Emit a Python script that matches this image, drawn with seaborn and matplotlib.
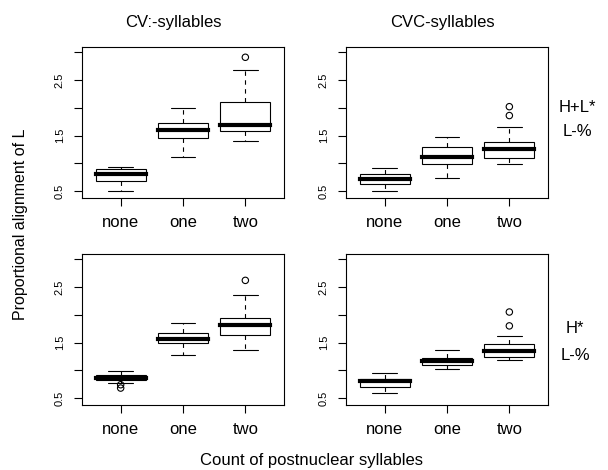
import numpy as np
import pandas as pd
import matplotlib
matplotlib.use("Agg")
import matplotlib.pyplot as plt
import seaborn as sns

# ---------------- data ----------------
groups = ["none", "one", "two"]
syllable_types = ["CV:-syllables", "CVC-syllables"]
accent_line1 = ["H+L*", "H*"]
accent_line2 = ["L-%", "L-%"]
xlabel = "Count of postnuclear syllables"
ylabel = "Proportional alignment of L"

# panel order: (H+L*, CV:), (H+L*, CVC), (H*, CV:), (H*, CVC)
whisker_low = [[0.50, 1.12, 1.41], [0.50, 0.73, 0.98], [0.77, 1.27, 1.36], [0.59, 1.025, 1.18]]
q1 = [[0.685, 1.46, 1.59], [0.62, 0.98, 1.10], [0.83, 1.50, 1.64], [0.70, 1.10, 1.245]]
median = [[0.80, 1.60, 1.69], [0.71, 1.11, 1.26], [0.87, 1.57, 1.82], [0.80, 1.16, 1.35]]
q3 = [[0.89, 1.72, 2.11], [0.80, 1.30, 1.39], [0.915, 1.68, 1.95], [0.84, 1.23, 1.47]]
whisker_high = [[0.93, 1.995, 2.68], [0.91, 1.47, 1.65], [0.99, 1.86, 2.35], [0.96, 1.365, 1.62]]
outlier_group = [["two"], ["two", "two"], ["none", "none", "two"], ["two", "two"]]
outlier_value = [[2.91], [1.86, 2.02], [0.74, 0.68, 2.62], [1.80, 2.05]]

yticks = [0.5, 1.0, 1.5, 2.0, 2.5, 3.0]
ytick_labels = ["0.5", "", "1.5", "", "2.5", ""]

# ---------------- tables ----------------
box_rows = []
for p in range(4):
    for i, g in enumerate(groups):
        vals = [whisker_low[p][i], q1[p][i], q1[p][i], median[p][i],
                q3[p][i], q3[p][i], whisker_high[p][i]]
        for v in vals:
            box_rows.append({"panel": p, "group": g, "value": v})
box_df = pd.DataFrame(box_rows)

out_rows = []
for p in range(4):
    for g, v in zip(outlier_group[p], outlier_value[p]):
        out_rows.append({"panel": p, "group": g, "value": v})
out_df = pd.DataFrame(out_rows)

# ---------------- style ----------------
sns.set_style("white")
plt.rcParams["font.family"] = ["Liberation Sans", "DejaVu Sans"]
plt.rcParams["text.color"] = "black"
plt.rcParams["xtick.color"] = "black"
plt.rcParams["ytick.color"] = "black"
plt.rcParams["axes.labelcolor"] = "black"

FW, FH = 608, 470
fig = plt.figure(figsize=(FW / 100, FH / 100), dpi=100)
fig.patch.set_facecolor("white")

positions = [(82, 47), (346, 47), (82, 254), (346, 254)]
W, H = 202, 151

for p, (l, t) in enumerate(positions):
    ax = fig.add_axes([l / FW, 1 - (t + H) / FH, W / FW, H / FH])
    d = box_df[box_df["panel"] == p]
    sns.boxplot(data=d, x="group", y="value", order=groups, ax=ax,
                width=0.8, color="white", linecolor="black", linewidth=0.8,
                whis=(0, 100), showfliers=False,
                medianprops=dict(linewidth=3, color="black", solid_capstyle="projecting"),
                whiskerprops=dict(linestyle=(0, (4, 4))))
    o = out_df[out_df["panel"] == p]
    sns.stripplot(data=o, x="group", y="value", order=groups, jitter=False, ax=ax,
                  marker="o", size=4.6, facecolor="none", edgecolor="black",
                  linewidth=0.8)
    ax.set_xlim(-0.62, 2.62)
    ax.set_ylim(0.375, 3.095)
    ax.set_xlabel("")
    ax.set_ylabel("")
    ax.set_xticks(range(len(groups)), groups, fontsize=12, color="black")
    ax.set_yticks(yticks, ytick_labels, fontsize=8, rotation=90, va="center", color="black")
    ax.tick_params(direction="out", length=5.5, width=0.8, color="black",
                   bottom=True, left=True)
    ax.tick_params(axis="x", pad=6.5)
    ax.tick_params(axis="y", pad=7)
    for s in ax.spines.values():
        s.set_visible(True)
        s.set_color("black")
        s.set_linewidth(0.8)
    ax.grid(False)

# column titles
fig.text(173.5 / FW, 1 - 27 / FH, syllable_types[0], ha="center", va="baseline", fontsize=12)
fig.text(442 / FW, 1 - 27 / FH, syllable_types[1], ha="center", va="baseline", fontsize=12)

# row labels
fig.text(577 / FW, 1 - 111.5 / FH, accent_line1[0], ha="center", va="baseline", fontsize=12)
fig.text(577 / FW, 1 - 136.5 / FH, accent_line2[0], ha="center", va="baseline", fontsize=12)
fig.text(575 / FW, 1 - 333 / FH, accent_line1[1], ha="center", va="baseline", fontsize=12)
fig.text(575 / FW, 1 - 360 / FH, accent_line2[1], ha="center", va="baseline", fontsize=12)

# axis labels
fig.text(311 / FW, 1 - 465.5 / FH, xlabel, ha="center", va="baseline", fontsize=12)
fig.text(21 / FW, 1 - 224 / FH, ylabel, ha="center", va="center", rotation=90, fontsize=11.5)

fig.savefig("out.png", dpi=100)
